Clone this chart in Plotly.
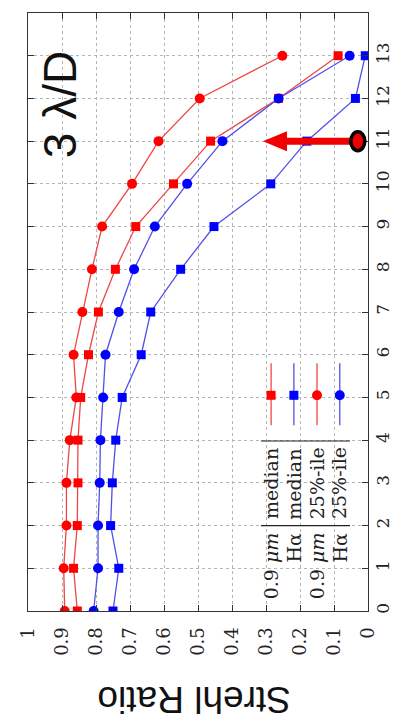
import plotly.graph_objects as go

offset_index = list(range(14))
strehl_09_median = [0.855, 0.866, 0.855, 0.853, 0.853, 0.845, 0.822, 0.793, 0.743, 0.683, 0.572, 0.463, 0.263, 0.088]
strehl_ha_median = [0.750, 0.733, 0.757, 0.752, 0.742, 0.723, 0.667, 0.639, 0.551, 0.453, 0.286, 0.180, 0.037, 0.008]
strehl_09_p25 = [0.892, 0.895, 0.887, 0.887, 0.877, 0.858, 0.866, 0.840, 0.812, 0.782, 0.694, 0.616, 0.495, 0.252]
strehl_ha_p25 = [0.807, 0.794, 0.794, 0.789, 0.787, 0.779, 0.772, 0.733, 0.688, 0.627, 0.532, 0.428, 0.263, 0.054]

x_tickvals = [1, 0.9, 0.8, 0.7, 0.6, 0.5, 0.4, 0.3, 0.2, 0.1, 0]
x_ticktext = ["1", "0.9", "0.8", "0.7", "0.6", "0.5", "0.4", "0.3", "0.2", "0.1", "0"]
y_tickvals = list(range(15))
y_ticktext = [str(v) for v in y_tickvals]

RED_M = "rgb(255,0,0)"
RED_L = "rgb(238,70,70)"
BLUE_M = "rgb(0,0,255)"
BLUE_L = "rgb(80,80,235)"

series = [
    (strehl_09_median, "square", RED_M, RED_L, 9),
    (strehl_ha_median, "square", BLUE_M, BLUE_L, 9),
    (strehl_09_p25, "circle", RED_M, RED_L, 10),
    (strehl_ha_p25, "circle", BLUE_M, BLUE_L, 10),
]

fig = go.Figure()
for vals, sym, mc, lc, sz in series:
    fig.add_trace(go.Scatter(
        x=vals, y=offset_index, mode="lines+markers",
        line=dict(color=lc, width=1.3),
        marker=dict(symbol=sym, size=sz, color=mc, line=dict(width=0)),
        showlegend=False, hoverinfo="skip",
    ))

serif = "DejaVu Serif"

fig.update_layout(
    width=398, height=720,
    margin=dict(l=20, r=38, t=5, b=117),
    paper_bgcolor="white", plot_bgcolor="white",
    xaxis=dict(
        range=[1, 0], tickvals=x_tickvals, ticktext=x_ticktext,
        tickangle=-90, ticks="inside", ticklen=6, tickcolor="#333",
        showline=True, linecolor="#333", linewidth=1, mirror="ticks",
        showgrid=True, gridcolor="#b5b5b5", griddash="dot", gridwidth=1,
        zeroline=False, ticklabelstandoff=8,
        tickfont=dict(family=serif, size=18, color="#222"),
    ),
    yaxis=dict(
        range=[0, 14], tickvals=y_tickvals, ticktext=y_ticktext, side="right",
        tickangle=-90, ticks="inside", ticklen=6, tickcolor="#333",
        showline=True, linecolor="#333", linewidth=1, mirror="ticks",
        showgrid=True, gridcolor="#b5b5b5", griddash="dot", gridwidth=1,
        zeroline=False, ticklabelstandoff=0,
        tickfont=dict(family=serif, size=17, color="#222"),
    ),
)

annotations = [
    dict(text="Strehl Ratio", xref="paper", yref="paper", x=0.488, y=-0.147,
         xanchor="center", yanchor="middle", textangle=180, showarrow=False,
         font=dict(family="Liberation Sans", size=37, color="#111")),
    dict(text="3 λ/D", xref="x", yref="y", x=0.905, y=11.85,
         xanchor="center", yanchor="middle", textangle=-90, showarrow=False,
         font=dict(family="Liberation Sans", size=46, color="#111")),
]

# legend table (rotated like the figure)
leg_rows = [
    ("0.9 <i>μm</i>", "median", "square", RED_M, RED_L, 0.285),
    ("Hα", "median", "square", BLUE_M, BLUE_L, 0.218),
    ("0.9 <i>μm</i>", "25%-ile", "circle", RED_M, RED_L, 0.150),
    ("Hα", "25%-ile", "circle", BLUE_M, BLUE_L, 0.083),
]
shapes = []
for c1, c2, sym, mc, lc, xs in leg_rows:
    annotations.append(dict(text=c1, xref="x", yref="y", x=xs, y=1.88,
                            xanchor="center", yanchor="top", textangle=-90,
                            showarrow=False,
                            font=dict(family=serif, size=19, color="#222")))
    annotations.append(dict(text=c2, xref="x", yref="y", x=xs, y=2.1,
                            xanchor="center", yanchor="bottom", textangle=-90,
                            showarrow=False,
                            font=dict(family=serif, size=19, color="#222")))
    shapes.append(dict(type="line", xref="x", yref="y", x0=xs, x1=xs, y0=4.35, y1=5.8,
                       line=dict(color=lc, width=1.3)))
    if sym == "square":
        shapes.append(dict(type="rect", xref="x", yref="y", xsizemode="pixel", ysizemode="pixel",
                           xanchor=xs, yanchor=5.05, x0=-4.5, x1=4.5, y0=-4.5, y1=4.5,
                           fillcolor=mc, line=dict(width=0)))
    else:
        shapes.append(dict(type="circle", xref="x", yref="y", xsizemode="pixel", ysizemode="pixel",
                           xanchor=xs, yanchor=5.05, x0=-5, x1=5, y0=-5, y1=5,
                           fillcolor=mc, line=dict(width=0)))

for ysep in (2.0, 3.98):
    shapes.append(dict(type="line", xref="x", yref="y", x0=0.315, x1=0.053, y0=ysep, y1=ysep,
                       line=dict(color="#222", width=1.2)))

# red arrow with black-ringed tail
shapes.append(dict(type="line", xref="x", yref="y", x0=0.03, x1=0.245, y0=11, y1=11,
                   line=dict(color="rgb(240,0,0)", width=7)))
shapes.append(dict(type="path", xref="x", yref="y", xsizemode="pixel", ysizemode="pixel",
                   xanchor=0.309, yanchor=11, path="M0,0 L24,10 L24,-10 Z",
                   fillcolor="rgb(240,0,0)", line=dict(width=0)))
shapes.append(dict(type="circle", xref="x", yref="y", xsizemode="pixel", ysizemode="pixel",
                   xanchor=0.03, yanchor=11, x0=-7, x1=7, y0=-9.5, y1=9.5,
                   fillcolor="rgb(240,0,0)", line=dict(color="black", width=3.5)))

fig.update_layout(annotations=annotations, shapes=shapes)
fig.write_html("out.html")
